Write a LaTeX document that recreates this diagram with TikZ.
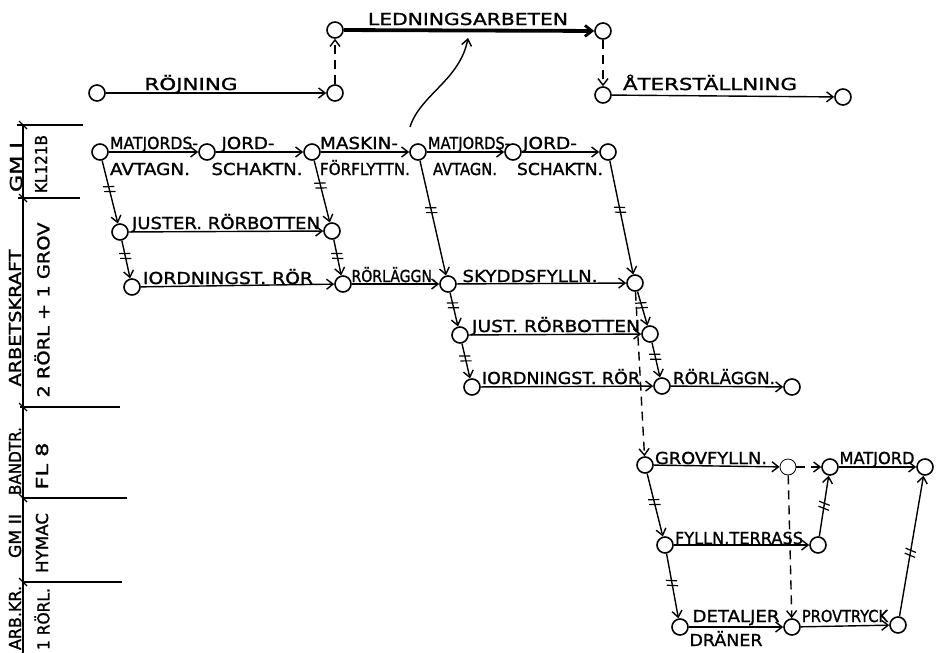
\documentclass[tikz,border=0pt]{standalone}
\usepackage{fontspec}
\usepackage{graphicx}
\setmainfont{DejaVu Sans}
\newfontfamily\lettering[FakeBold=1.2]{DejaVu Sans}
\usetikzlibrary{arrows.meta,decorations.markings}
% stretch or squeeze a label horizontally to a given width (in pt)
\newsavebox\fwbox
\newcommand{\fw}[2]{\sbox\fwbox{#2}\pgfmathsetmacro\fwratio{#1/\wd\fwbox}\scalebox{\fwratio}[1]{\usebox\fwbox}}

\tikzset{
  ev/.style={circle,draw,line width=1.6pt,minimum size=16pt,inner sep=0pt},
  evthin/.style={ev,line width=0.8pt},
  act/.style={line width=1.4pt,-{Straight Barb[length=6.5pt,width=10pt,line width=1.4pt]}},
  dummy/.style={act,dash pattern=on 9pt off 6pt},
  critical/.style={line width=3.8pt,-{Straight Barb[length=7pt,width=11pt,line width=2.8pt]}},
  lbl/.style={anchor=base,inner sep=0pt,font=\lettering\fontsize{16.5}{16.5}\selectfont},
  vlbl/.style={inner sep=0pt,font=\lettering\fontsize{16.5}{16.5}\selectfont},
  axisline/.style={line width=1.4pt},
  cutmark/.style={postaction={decorate,decoration={markings,
      mark=at position #1 with {\draw[line width=1.2pt,-] (-3.5pt,-5.5pt)--(-1pt,5.5pt) (1.5pt,-5.5pt)--(4pt,5.5pt);}}}},
}

\begin{document}
\begin{tikzpicture}[x=1pt,y=-1pt]
\fill[white] (0,0) rectangle (937,653);
\useasboundingbox (0,0) rectangle (937,653);

% ---- resource column on the left ----
\draw[axisline] (23,125) -- (23,660);
\draw[axisline] (17,125) -- (83,125);
\draw[axisline] (18,198) -- (80,198);
\draw[axisline] (20,407) -- (120,407);
\draw[axisline] (22,498) -- (127,498);
\draw[axisline] (22,582) -- (122,582);
\foreach \yy in {125,198,407,498,582}
  \draw[line width=1.1pt] (19,\yy-4) -- (27,\yy+4);

\node[vlbl] (r1) at (16,167) {\rotatebox{90}{\fw{50}{GM I}}};
\node[vlbl] (r2) at (41,164) {\rotatebox{90}{\fw{58}{KL121B}}};
\node[vlbl] (r3) at (15,318) {\rotatebox{90}{\fw{137}{ARBETSKRAFT}}};
\node[vlbl] (r4) at (42,310) {\rotatebox{90}{\fw{175}{2 RÖRL + 1 GROV}}};
\node[vlbl] (r5) at (15,461) {\rotatebox{90}{\fw{68}{BANDTR.}}};
\node[vlbl] (r6) at (42,466) {\rotatebox{90}{\fw{47}{FL 8}}};
\node[vlbl] (r7) at (15,536) {\rotatebox{90}{\fw{44}{GM II}}};
\node[vlbl] (r8) at (42,543) {\rotatebox{90}{\fw{60}{HYMAC}}};
\node[vlbl] (r9) at (15,618) {\rotatebox{90}{\fw{64}{ARB.KR.}}};
\node[vlbl] (r10) at (42,619) {\rotatebox{90}{\fw{62}{1 RÖRL.}}};

% ---- events ----
\node[ev] (rj1) at (97,93) {};
\node[ev] (rj2) at (335,93) {};
\node[ev] (ld1) at (335,30) {};
\node[ev] (ld2) at (603,31) {};
\node[ev] (at1) at (603,95) {};
\node[ev] (at2) at (843,97) {};

\node[ev] (A) at (100,152) {};
\node[ev] (B) at (207,152) {};
\node[ev] (C) at (312,152) {};
\node[ev] (D) at (418,152) {};
\node[ev] (E) at (513,152) {};
\node[ev] (F) at (608,152) {};
\node[ev] (G) at (120,232) {};
\node[ev] (H) at (332,231) {};
\node[ev] (I) at (132,287) {};
\node[ev] (J) at (343,284) {};
\node[ev] (K) at (448,284) {};
\node[ev] (L) at (635,283) {};
\node[ev] (M) at (460,335) {};
\node[ev] (N) at (650,334) {};
\node[ev] (O) at (472,387) {};
\node[ev] (P) at (662,386) {};
\node[ev] (Q) at (792,387) {};
\node[ev] (R) at (645,465) {};
\node[evthin] (S) at (788,467) {};
\node[ev] (T) at (830,467) {};
\node[ev] (U) at (925,467) {};
\node[ev] (V) at (665,545) {};
\node[ev] (W) at (818,545) {};
\node[ev] (X) at (680,627) {};
\node[ev] (Y) at (792,627) {};
\node[ev] (Z) at (898,625) {};

% ---- overall sequence ----
\draw[act] (rj1) -- (rj2);
\draw[dummy] (rj2) -- (ld1);
\draw[critical] (ld1) -- (ld2);
\draw[dummy] (ld2) -- (at1);
\draw[act] (at1) -- (at2);
\coordinate (cs) at (410,127);
\coordinate (ce) at (468,38);
\draw[act] (cs) .. controls (420,95) and (460,80) .. (ce);

% ---- detailed network ----
\draw[act] (A) -- (B);
\draw[act] (B) -- (C);
\draw[act] (C) -- (D);
\draw[act] (D) -- (E);
\draw[act] (E) -- (F);
\draw[act,cutmark=0.45] (A) -- (G);
\draw[act,cutmark=0.4] (G) -- (I);
\draw[act] (G) -- (H);
\draw[act,cutmark=0.4] (C) -- (H);
\draw[act,cutmark=0.45] (H) -- (J);
\draw[act] (I) -- (J);
\draw[act] (J) -- (K);
\draw[act,cutmark=0.43] (D) -- (K);
\draw[act] (K) -- (L);
\draw[act,cutmark=0.43] (F) -- (L);
\draw[act,cutmark=0.37] (K) -- (M);
\draw[act] (M) -- (N);
\draw[act,cutmark=0.4] (L) -- (N);
\draw[act,cutmark=0.42] (M) -- (O);
\draw[act] (O) -- (P);
\draw[act,cutmark=0.4] (N) -- (P);
\draw[act] (P) -- (Q);
\draw[dummy] (L) -- (R);
\draw[act] (R) -- (S);
\draw[dummy] (S) -- (T);
\draw[dummy] (S) -- (Y);
\draw[act] (T) -- (U);
\draw[act,cutmark=0.45] (R) -- (V);
\draw[act] (V) -- (W);
\draw[act,cutmark=0.5] (W) -- (T);
\draw[act,cutmark=0.45] (V) -- (X);
\draw[act] (X) -- (Y);
\draw[act] (Y) -- (Z);
\draw[act,cutmark=0.45] (Z) -- (U);

% ---- activity labels ----
\node[lbl] (t1) at (191,90) {\fw{93}{RÖJNING}};
\node[lbl] (t2) at (468,25) {\fw{200}{LEDNINGSARBETEN}};
\node[lbl] (t3) at (710,90) {\fw{174}{ÅTERSTÄLLNING}};
\node[lbl] (t4) at (154,149) {\fw{88}{MATJORDS-}};
\node[lbl] (t5) at (150,175) {\fw{80}{AVTAGN.}};
\node[lbl] (t6) at (248,149) {\fw{53}{JORD-}};
\node[lbl] (t7) at (257,175) {\fw{91}{SCHAKTN.}};
\node[lbl] (t8) at (359,149) {\fw{78}{MASKIN-}};
\node[lbl] (t9) at (365,175) {\fw{90}{FÖRFLYTTN.}};
\node[lbl] (t10) at (469,149) {\fw{82}{MATJORDS-}};
\node[lbl] (t11) at (465,175) {\fw{64}{AVTAGN.}};
\node[lbl] (t12) at (550,149) {\fw{54}{JORD-}};
\node[lbl] (t13) at (560,175) {\fw{86}{SCHAKTN.}};
\node[lbl] (t14) at (226,229) {\fw{188}{JUSTER. RÖRBOTTEN}};
\node[lbl] (t15) at (228,284) {\fw{170}{IORDNINGST. RÖR}};
\node[lbl] (t16) at (394,282) {\fw{85}{RÖRLÄGGN.}};
\node[lbl] (t17) at (530,282) {\fw{135}{SKYDDSFYLLN.}};
\node[lbl] (t18) at (556,332) {\fw{168}{JUST. RÖRBOTTEN}};
\node[lbl] (t19) at (561,384) {\fw{158}{IORDNINGST. RÖR}};
\node[lbl] (t20) at (724,384) {\fw{102}{RÖRLÄGGN.}};
\node[lbl] (t21) at (711,464) {\fw{112}{GROVFYLLN.}};
\node[lbl] (t22) at (877,464) {\fw{75}{MATJORD}};
\node[lbl] (t23) at (739,544) {\fw{128}{FYLLN.TERRASS}};
\node[lbl] (t24) at (736,622) {\fw{87}{DETALJER}};
\node[lbl] (t25) at (726,646) {\fw{73}{DRÄNER}};
\node[lbl] (t26) at (845,622) {\fw{86}{PROVTRYCK}};
\end{tikzpicture}
\end{document}
